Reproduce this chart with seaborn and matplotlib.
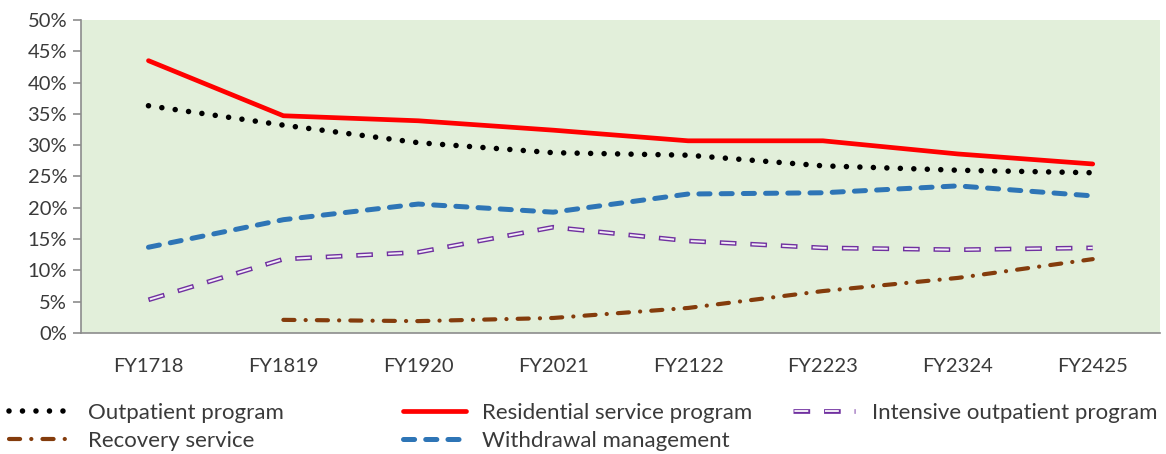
import matplotlib
matplotlib.use("Agg")
import matplotlib.pyplot as plt
import numpy as np
import pandas as pd
import seaborn as sns
from matplotlib.lines import Line2D
from matplotlib.legend_handler import HandlerTuple

years = ["FY1718", "FY1819", "FY1920", "FY2021", "FY2122", "FY2223", "FY2324", "FY2425"]
outpatient = [36.3, 33.2, 30.4, 28.8, 28.4, 26.7, 26.0, 25.6]
residential = [43.5, 34.7, 33.9, 32.4, 30.7, 30.7, 28.6, 27.0]
intensive = [5.3, 11.8, 12.9, 16.9, 14.7, 13.6, 13.3, 13.6]
recovery = [np.nan, 2.1, 1.9, 2.4, 4.0, 6.7, 8.8, 11.8]
withdrawal = [13.7, 18.1, 20.6, 19.3, 22.2, 22.4, 23.5, 21.9]

df = pd.DataFrame({"pos": np.arange(len(years)), "outpatient": outpatient,
                   "residential": residential, "intensive": intensive,
                   "recovery": recovery, "withdrawal": withdrawal})

sns.set_style("white")
plt.rcParams["font.family"] = ["Lato", "DejaVu Sans"]
plt.rcParams["lines.scale_dashes"] = False
txt = "#3a3a3a"

# line styles (dash patterns in points)
sty_out = dict(color="black", lw=4.0, linestyle=(0, (0.01, 9.7)), dash_capstyle="round")
sty_res = dict(color="#ff0000", lw=3.4)
sty_int_a = dict(color="#7030a0", lw=3.4, linestyle=(0, (12, 10)), dash_capstyle="butt")
sty_int_b = dict(color="#f2eef6", lw=1.4, linestyle=(21.0, (10.0, 12.0)), dash_capstyle="butt")
sty_rec = dict(color="#843c0c", lw=3.0, linestyle=(0, (8, 8, 0.1, 8)), dash_capstyle="round")
sty_wd = dict(color="#2e75b6", lw=3.6, linestyle=(0, (8, 8)), dash_capstyle="round")

fig = plt.figure(figsize=(11.66, 4.54), dpi=100)
ax = fig.add_axes([0.0695, 0.2665, 0.9255, 0.6895])
ax.set_facecolor("#e2efda")

sns.lineplot(data=df, x="pos", y="withdrawal", ax=ax, **sty_wd)
sns.lineplot(data=df, x="pos", y="intensive", ax=ax, **sty_int_a)
sns.lineplot(data=df, x="pos", y="intensive", ax=ax, **sty_int_b)
sns.lineplot(data=df, x="pos", y="recovery", ax=ax, **sty_rec)
sns.lineplot(data=df, x="pos", y="residential", ax=ax, **sty_res)
sns.lineplot(data=df, x="pos", y="outpatient", ax=ax, **sty_out)

ax.set_xlim(-0.5, len(years) - 0.5)
ax.set_ylim(0, 50)
ax.set_xticks(np.arange(len(years)))
ax.set_xticklabels(years)
ax.set_xticks(np.arange(len(years) + 1) - 0.5, minor=True)
ax.set_yticks(np.arange(0, 51, 5))
ax.set_yticklabels([f"{v}%" for v in range(0, 51, 5)])
ax.tick_params(axis="x", which="major", length=0, pad=18, labelsize=14.5, labelcolor=txt)
ax.tick_params(axis="x", which="minor", length=6, width=1.2, color="#8c8c8c", direction="out")
ax.tick_params(axis="y", length=6, width=1.2, color="#8c8c8c", direction="out",
               labelsize=14.5, labelcolor=txt, pad=4, left=True)
ax.set_xlabel("")
ax.set_ylabel("")
for s in ["top", "right"]:
    ax.spines[s].set_visible(False)
for s in ["left", "bottom"]:
    ax.spines[s].set_color("#8c8c8c")
    ax.spines[s].set_linewidth(1.2)

h_out = Line2D([], [], **sty_out)
h_res = Line2D([], [], **sty_res)
h_int = (Line2D([], [], **sty_int_a), Line2D([], [], **sty_int_b))
h_rec = Line2D([], [], **sty_rec)
h_wd = Line2D([], [], **sty_wd)

leg_kw = dict(frameon=False, fontsize=16, labelcolor=txt, handlelength=2.8,
              handletextpad=0.75, labelspacing=0.38, borderaxespad=0, borderpad=0,
              handler_map={tuple: HandlerTuple(ndivide=1, pad=0)})
fig.legend([h_out, h_rec], ["Outpatient program", "Recovery service"],
           loc="upper left", bbox_to_anchor=(0.008, 0.113), **leg_kw)
fig.legend([h_res, h_wd], ["Residential service program", "Withdrawal management"],
           loc="upper left", bbox_to_anchor=(0.346, 0.113), **leg_kw)
fig.legend([h_int], ["Intensive outpatient program"],
           loc="upper left", bbox_to_anchor=(0.680, 0.113), **leg_kw)

fig.savefig("out.png", dpi=100)
